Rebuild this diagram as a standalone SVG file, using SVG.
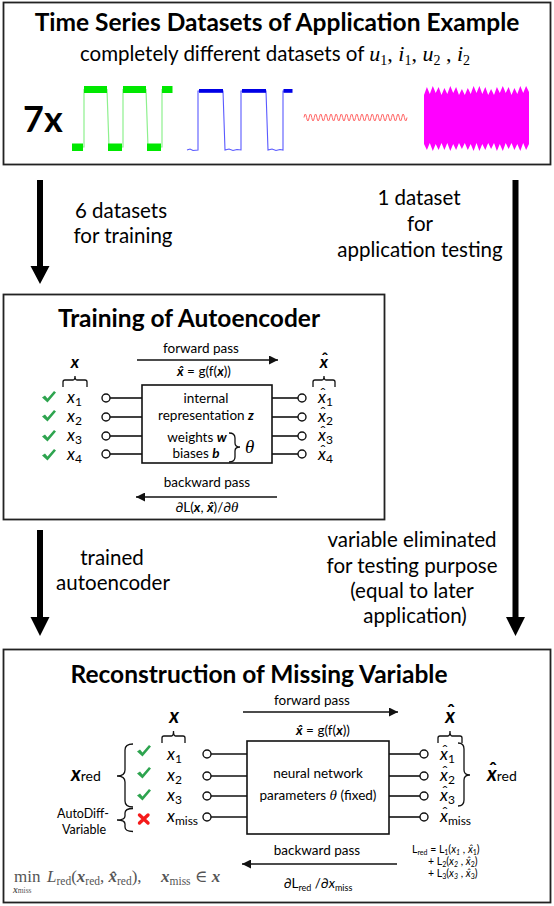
<svg xmlns="http://www.w3.org/2000/svg" width="554" height="906" viewBox="0 0 554 906">
<style>
.t{font-family:Lato,"Liberation Sans",sans-serif;fill:#000}
.ttl{font-size:24.5px;font-weight:700;text-anchor:middle}
.lbl{font-size:20.5px;text-anchor:middle}
.sm{font-size:13.5px}
.mid{text-anchor:middle}
.var{font-size:17px;font-style:italic}
.bi{font-weight:700;font-style:italic}
.s{font-size:12px;font-style:normal}
.ser{font-family:"Liberation Serif","DejaVu Serif",serif}
.box{fill:#fff;stroke:#222;stroke-width:1.8}
.ib{fill:#fff;stroke:#111;stroke-width:1.6}
.ln{stroke:#111;stroke-width:1.6;fill:none}
.cir{fill:#fff;stroke:#111;stroke-width:1.4}
.br{fill:none;stroke:#111;stroke-width:1.3}
.thin{stroke:#111;stroke-width:1.6;fill:none}
.big{fill:#000}
</style>
<defs>
<marker id="ah" viewBox="0 0 10 10" refX="10" refY="5" markerWidth="9" markerHeight="9" markerUnits="userSpaceOnUse" orient="auto"><path d="M0,0 L10,5 L0,10 Z" fill="#111"/></marker>
<path id="ck" d="M0,6.5 L3,4.5 L5.5,7.5 L12,0 L14,1.5 L5.5,11.5 Z" fill="#2ea44f"/>
</defs>

<g id="datasets">
<rect class="box" x="3.5" y="2.5" width="547" height="162"/>
<text class="t ttl" x="277" y="31">Time Series Datasets of Application Example</text>
<text class="t" x="275" y="61" font-size="20.5" text-anchor="middle">completely different datasets of <tspan class="ser" font-style="italic" font-size="22">u</tspan><tspan class="ser" font-size="14" dy="4">1</tspan><tspan class="ser" font-size="22" dy="-4">, </tspan><tspan class="ser" font-style="italic" font-size="22">i</tspan><tspan class="ser" font-size="14" dy="4">1</tspan><tspan class="ser" font-size="22" dy="-4">, </tspan><tspan class="ser" font-style="italic" font-size="22">u</tspan><tspan class="ser" font-size="14" dy="4">2</tspan><tspan class="ser" font-size="22" dy="-4"> , </tspan><tspan class="ser" font-style="italic" font-size="22">i</tspan><tspan class="ser" font-size="14" dy="4">2</tspan></text>
<text class="t" x="23" y="132" font-size="36" font-weight="700">7x</text>
<!-- green signal -->
<path d="M72,147 H84 V89.5 H107 L109,147 H123 V89.5 H146 L148,147 H162 V89.5 H172" fill="none" stroke="#8ef08e" stroke-width="1.2"/>
<g fill="#00e800">
<rect x="72" y="143.5" width="11" height="7.5"/><rect x="108" y="143.5" width="14" height="7.5"/><rect x="147" y="143.5" width="14" height="7.5"/>
<rect x="84" y="86" width="23" height="7"/><rect x="123" y="86" width="23" height="7"/><rect x="162" y="86" width="10.5" height="7"/>
</g>
<!-- blue signal -->
<path d="M187,150 L190,149 L193,150.5 L198,150 V91 H223 L225,150 L229,149 L233,150.5 L237,149.5 L241,150 V91 H266 L268,150 L272,149 L276,150.5 L280,149.5 L283,150 V91 H292" fill="none" stroke="#5a5aff" stroke-width="1.1"/>
<g fill="#0000e6">
<rect x="199" y="89" width="24" height="3.8"/><rect x="242" y="89" width="24" height="3.8"/><rect x="283.5" y="89" width="9" height="3.8"/>
</g>
<!-- red wave -->
<path d="M304,117.5 q1.2875,-7 2.575,0 t2.575,0 t2.575,0 t2.575,0 t2.575,0 t2.575,0 t2.575,0 t2.575,0 t2.575,0 t2.575,0 t2.575,0 t2.575,0 t2.575,0 t2.575,0 t2.575,0 t2.575,0 t2.575,0 t2.575,0 t2.575,0 t2.575,0 t2.575,0 t2.575,0 t2.575,0 t2.575,0 t2.575,0 t2.575,0 t2.575,0 t2.575,0 t2.575,0 t2.575,0 t2.575,0 t2.575,0 t2.575,0 t2.575,0 t2.575,0 t2.575,0 t2.575,0 t2.575,0 t2.575,0 t2.575,0" fill="none" stroke="#f66" stroke-width="1"/>
<!-- magenta -->
<polygon fill="#ff00ff" points="424,95 426.9,87 429.8,94 432.8,86 435.7,93 438.6,87 441.5,95 444.4,88 447.3,94 450.3,86 453.2,93 456.1,87 459,95 461.9,89 464.8,95 467.8,88 470.7,94 473.6,86 476.5,93 479.4,86 482.3,94 485.3,87 488.2,95 491.1,89 494,95 496.9,87 499.8,93 502.8,86 505.7,93 508.6,87 511.5,95 514.4,88 517.3,94 520.3,86 523.2,93 526.1,86 529,92 529,144 526.1,150 523.2,143 520.3,151 517.3,144 514.4,150 511.5,143 508.6,149 505.7,143 502.8,151 499.8,144 496.9,151 494,143 491.1,149 488.2,143 485.3,150 482.3,144 479.4,151 476.5,143 473.6,151 470.7,144 467.8,150 464.8,143 461.9,149 459,143 456.1,150 453.2,144 450.3,151 447.3,143 444.4,150 441.5,143 438.6,150 435.7,144 432.8,151 429.8,143 426.9,150 424,144"/>
</g>

<g id="connectors">
<path class="big" d="M37,180 H43 V266 H49.5 L40,284 L30.5,266 H37 Z"/>
<path class="big" d="M37,530 H43 V617 H49.5 L40,636 L30.5,617 H37 Z"/>
<path class="big" d="M512.5,180 H518.5 V617 H525 L515.5,636 L506,617 H512.5 Z"/>
<text class="t lbl" x="121" y="218">6 datasets</text>
<text class="t lbl" x="123" y="243">for training</text>
<text class="t lbl" x="419" y="205">1 dataset</text>
<text class="t lbl" x="420" y="231">for</text>
<text class="t lbl" x="420" y="257">application testing</text>
<text class="t lbl" x="112" y="565">trained</text>
<text class="t lbl" x="113" y="590">autoencoder</text>
<text class="t lbl" x="412" y="547">variable eliminated</text>
<text class="t lbl" x="412" y="573">for testing purpose</text>
<text class="t lbl" x="412" y="598">(equal to later</text>
<text class="t lbl" x="415" y="623">application)</text>
</g>

<g id="training">
<rect class="box" x="3.5" y="294.5" width="381" height="225"/>
<text class="t ttl" x="189" y="327">Training of Autoencoder</text>
<text class="t sm mid" x="201" y="353">forward pass</text>
<line class="thin" x1="137" y1="360" x2="278" y2="360" marker-end="url(#ah)"/>
<text class="t sm mid" x="204" y="376"><tspan class="bi">x̂</tspan> = g(f(<tspan class="bi">x</tspan>))</text>
<text class="t sm mid" x="207" y="487">backward pass</text>
<line class="thin" x1="277" y1="497" x2="136" y2="497" marker-end="url(#ah)"/>
<text class="t sm mid" x="207" y="512">∂L(<tspan class="bi">x</tspan>, <tspan class="bi">x̂</tspan>)/∂<tspan class="ser" font-style="italic" font-size="15">θ</tspan></text>
<rect class="ib" x="142" y="385" width="130" height="78"/>
<text class="t sm mid" x="206" y="403">internal</text>
<text class="t sm mid" x="206" y="420">representation <tspan class="bi">z</tspan></text>
<text class="t sm mid" x="197" y="442">weights <tspan class="bi">w</tspan></text>
<text class="t sm mid" x="196" y="458">biases <tspan class="bi">b</tspan></text>
<path class="br" d="M229,433 Q235,433 235,438 L235,443 Q235,447 240,447 Q235,447 235,451 L235,457 Q235,462 229,462"/>
<text class="t ser" x="245" y="453" font-size="19" font-style="italic">θ</text>
<text class="t bi mid" x="75" y="368" font-size="17">x</text>
<path class="br" d="M63,387 L63,382 Q63,380 65,380 L73,380 Q75,380 75,376 Q75,380 77,380 L85,380 Q87,380 87,382 L87,387"/>
<text class="t bi mid" x="324" y="368" font-size="17">x</text>
<text class="t mid" x="325" y="365" font-size="17" font-weight="700">ˆ</text>
<path class="br" d="M313,387 L313,382 Q313,380 315,380 L322,380 Q324,380 324,376 Q324,380 326,380 L333,380 Q335,380 335,382 L335,387"/>
<use href="#ck" x="42" y="391"/><use href="#ck" x="42" y="410"/><use href="#ck" x="42" y="430"/><use href="#ck" x="42" y="449"/>
<text class="t var" x="67" y="403">x<tspan class="s" dy="3">1</tspan></text>
<text class="t var" x="67" y="422">x<tspan class="s" dy="3">2</tspan></text>
<text class="t var" x="67" y="441">x<tspan class="s" dy="3">3</tspan></text>
<text class="t var" x="67" y="460">x<tspan class="s" dy="3">4</tspan></text>
<g class="ln"><line x1="110" y1="398" x2="142" y2="398"/><line x1="110" y1="417" x2="142" y2="417"/><line x1="110" y1="436" x2="142" y2="436"/><line x1="110" y1="454" x2="142" y2="454"/>
<line x1="272" y1="398" x2="298" y2="398"/><line x1="272" y1="417" x2="298" y2="417"/><line x1="272" y1="436" x2="298" y2="436"/><line x1="272" y1="454" x2="298" y2="454"/></g>
<g class="cir"><circle cx="106" cy="398" r="4"/><circle cx="106" cy="417" r="4"/><circle cx="106" cy="436" r="4"/><circle cx="106" cy="454" r="4"/>
<circle cx="302" cy="398" r="4"/><circle cx="302" cy="417" r="4"/><circle cx="302" cy="436" r="4"/><circle cx="302" cy="454" r="4"/></g>
<text class="t var" x="318" y="403">x<tspan class="s" dy="3">1</tspan></text>
<text class="t var" x="318" y="422">x<tspan class="s" dy="3">2</tspan></text>
<text class="t var" x="318" y="441">x<tspan class="s" dy="3">3</tspan></text>
<text class="t var" x="318" y="460">x<tspan class="s" dy="3">4</tspan></text>
<g class="t mid" font-size="16"><text x="323" y="399">ˆ</text><text x="323" y="418">ˆ</text><text x="323" y="437">ˆ</text><text x="323" y="456">ˆ</text></g>
</g>

<g id="reconstruction">
<rect class="box" x="3.5" y="649.5" width="547" height="253"/>
<text class="t ttl" x="259" y="683">Reconstruction of Missing Variable</text>
<text class="t sm mid" x="312" y="705">forward pass</text>
<line class="thin" x1="243" y1="712" x2="398" y2="712" marker-end="url(#ah)"/>
<text class="t sm mid" x="323" y="735"><tspan class="bi">x̂</tspan> = g(f(<tspan class="bi">x</tspan>))</text>
<text class="t sm mid" x="317" y="855">backward pass</text>
<line class="thin" x1="397" y1="864" x2="242" y2="864" marker-end="url(#ah)"/>
<text class="t sm mid" x="318" y="888">∂L<tspan font-size="9" dy="3">red</tspan><tspan dy="-3"> /∂</tspan><tspan font-style="italic">x</tspan><tspan font-size="9" dy="3">miss</tspan></text>
<rect class="ib" x="247" y="741" width="142" height="93"/>
<text class="t sm mid" x="318" y="778">neural network</text>
<text class="t sm mid" x="318" y="800">parameters <tspan class="ser" font-style="italic" font-size="15">θ</tspan> (fixed)</text>
<text class="t bi mid" x="174" y="723" font-size="20">x</text>
<path class="br" d="M162,743 L162,738 Q162,736 164,736 L171.5,736 Q173.5,736 173.5,731 Q173.5,736 175.5,736 L183,736 Q185,736 185,738 L185,743"/>
<text class="t bi mid" x="450" y="723" font-size="20">x</text>
<text class="t mid" x="451" y="719" font-size="20" font-weight="700">ˆ</text>
<path class="br" d="M438,743 L438,738 Q438,736 440,736 L448,736 Q450,736 450,731 Q450,736 452,736 L460,736 Q462,736 462,738 L462,743"/>
<use href="#ck" x="137" y="745"/><use href="#ck" x="137" y="767"/><use href="#ck" x="137" y="789"/>
<path d="M139.5,815 L148,823 M148,815 L139.5,823" stroke="#f51a1a" stroke-width="3.4" stroke-linecap="round"/>
<text class="t var" x="167" y="760">x<tspan class="s" dy="3">1</tspan></text>
<text class="t var" x="167" y="781">x<tspan class="s" dy="3">2</tspan></text>
<text class="t var" x="167" y="801">x<tspan class="s" dy="3">3</tspan></text>
<text class="t var" x="167" y="822">x<tspan class="s" dy="3">miss</tspan></text>
<g class="ln"><line x1="211" y1="754" x2="247" y2="754"/><line x1="211" y1="776" x2="247" y2="776"/><line x1="211" y1="796" x2="247" y2="796"/><line x1="211" y1="817" x2="247" y2="817"/>
<line x1="389" y1="754" x2="420" y2="754"/><line x1="389" y1="776" x2="420" y2="776"/><line x1="389" y1="796" x2="420" y2="796"/><line x1="389" y1="817" x2="420" y2="817"/></g>
<g class="cir"><circle cx="207" cy="754" r="4"/><circle cx="207" cy="776" r="4"/><circle cx="207" cy="796" r="4"/><circle cx="207" cy="817" r="4"/>
<circle cx="424" cy="754" r="4"/><circle cx="424" cy="776" r="4"/><circle cx="424" cy="796" r="4"/><circle cx="424" cy="817" r="4"/></g>
<text class="t var" x="440" y="760">x<tspan class="s" dy="3">1</tspan></text>
<text class="t var" x="440" y="781">x<tspan class="s" dy="3">2</tspan></text>
<text class="t var" x="440" y="801">x<tspan class="s" dy="3">3</tspan></text>
<text class="t var" x="440" y="822">x<tspan class="s" dy="3">miss</tspan></text>
<g class="t mid" font-size="16"><text x="445" y="756">ˆ</text><text x="445" y="777">ˆ</text><text x="445" y="797">ˆ</text><text x="445" y="818">ˆ</text></g>
<path class="br" d="M133,744 Q125,744 125,750 L125,770 Q125,776 117,776 Q125,776 125,782 L125,801 Q125,807 133,807"/>
<path class="br" d="M133,808.5 Q125,808.5 125,813 L125,816 Q125,820 117,820 Q125,820 125,824 L125,827 Q125,831.5 133,831.5"/>
<path class="br" d="M458,743 Q464,743 464,749 L464,770 Q464,775 470,775 Q464,775 464,780 L464,800 Q464,806 458,806"/>
<text class="t" x="71" y="781" font-size="20"><tspan class="bi">x</tspan><tspan font-size="14">red</tspan></text>
<text class="t" x="487" y="781" font-size="20"><tspan class="bi">x</tspan><tspan font-size="14">red</tspan></text>
<text class="t mid" x="493" y="777" font-size="20" font-weight="700">ˆ</text>
<text class="t mid" x="83" y="818" font-size="12.5">AutoDiff-</text>
<text class="t mid" x="84" y="834" font-size="12.5">Variable</text>
<g class="t" font-size="10.5">
<text x="412" y="853">L<tspan font-size="7" dy="2">red</tspan><tspan dy="-2"> = L</tspan><tspan font-size="7" dy="2">1</tspan><tspan dy="-2">(</tspan><tspan font-style="italic">x</tspan><tspan font-size="7" font-style="italic" dy="2">1</tspan><tspan dy="-2"> , </tspan><tspan font-style="italic">x̂</tspan><tspan font-size="7" dy="2">1</tspan><tspan dy="-2">)</tspan></text>
<text x="428" y="865">+ L<tspan font-size="7" dy="2">2</tspan><tspan dy="-2">(</tspan><tspan font-style="italic">x</tspan><tspan font-size="7" font-style="italic" dy="2">2</tspan><tspan dy="-2"> , </tspan><tspan font-style="italic">x̂</tspan><tspan font-size="7" dy="2">2</tspan><tspan dy="-2">)</tspan></text>
<text x="428" y="877">+ L<tspan font-size="7" dy="2">3</tspan><tspan dy="-2">(</tspan><tspan font-style="italic">x</tspan><tspan font-size="7" font-style="italic" dy="2">3</tspan><tspan dy="-2"> , </tspan><tspan font-style="italic">x̂</tspan><tspan font-size="7" dy="2">3</tspan><tspan dy="-2">)</tspan></text>
</g>
<g class="ser" fill="#555">
<text x="14" y="882" font-size="17">min</text>
<text x="13" y="893" font-size="9.5" font-weight="700" font-style="italic">x<tspan font-weight="400" font-style="normal" font-size="7.5">miss</tspan></text>
<text x="47" y="882" font-size="17"><tspan font-style="italic">L</tspan><tspan font-size="11.5" dy="2.5">red</tspan><tspan dy="-2.5">(</tspan><tspan font-weight="700" font-style="italic">x</tspan><tspan font-size="11.5" dy="2.5">red</tspan><tspan dy="-2.5">, </tspan><tspan font-weight="700" font-style="italic">x̂</tspan><tspan font-size="11.5" dy="2.5">red</tspan><tspan dy="-2.5">),</tspan></text>
<text x="161" y="882" font-size="17"><tspan font-weight="700" font-style="italic">x</tspan><tspan font-size="11.5" dy="2.5">miss</tspan><tspan dy="-2.5"> ∈ </tspan><tspan font-weight="700" font-style="italic">x</tspan></text>
</g>
</g>
</svg>
